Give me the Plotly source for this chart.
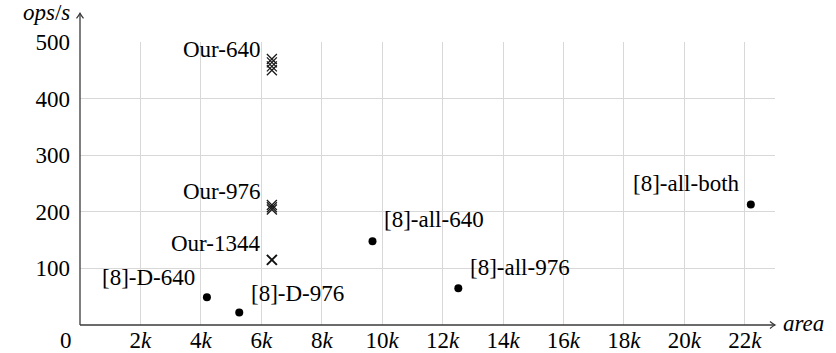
import plotly.graph_objects as go

# ---- data ----
our_x = 6.35  # area in k
our_640 = [450, 457, 464, 470]
our_976 = [204, 208, 212]
our_1344 = [115]

ref_names = ["[8]-D-640", "[8]-D-976", "[8]-all-640", "[8]-all-976", "[8]-all-both"]
ref_x = [4.2, 5.27, 9.68, 12.52, 22.2]   # area in k
ref_y = [49, 22, 148, 65, 213]           # ops/s

x_ticks = [2, 4, 6, 8, 10, 12, 14, 16, 18, 20, 22]
x_tick_text = [f"{v}<i>k</i>" for v in x_ticks]
y_ticks = [100, 200, 300, 400, 500]

FONT = "'Liberation Serif', 'Times New Roman', 'DejaVu Serif', serif"
FS = 23
AXIS_COLOR = "#3a3a3a"
GRID_COLOR = "#d8d8d8"

fig = go.Figure()

cross_thin = dict(symbol="x-thin-open", size=10, line=dict(width=1.3, color="#1a1a1a"), color="#1a1a1a")
cross_bold = dict(symbol="x-thin-open", size=10, line=dict(width=2, color="#111111"), color="#111111")
for vals, mk in ((our_640, cross_thin), (our_976, cross_thin), (our_1344, cross_bold)):
    fig.add_trace(go.Scatter(x=[our_x] * len(vals), y=vals, mode="markers",
                             marker=mk, showlegend=False, cliponaxis=False))

fig.add_trace(go.Scatter(x=ref_x, y=ref_y, mode="markers",
                         marker=dict(symbol="circle", size=8, color="black"),
                         showlegend=False, cliponaxis=False))

# labels for our points
our_labels = [("Our-640", max(our_640), -10, 9),
              ("Our-976", max(our_976), -10, 14),
              ("Our-1344", max(our_1344), -10, 16)]
for txt, yv, xs, ys in our_labels:
    fig.add_annotation(x=our_x, y=yv, text=txt, showarrow=False, xanchor="right",
                       yanchor="middle", xshift=xs, yshift=ys,
                       font=dict(family=FONT, size=FS, color="black"))

ref_style = [("right", -10, 20), ("left", 10, 19), ("left", 9, 22), ("left", 10, 21), ("right", -9, 21)]
for name, xv, yv, (anc, xs, ys) in zip(ref_names, ref_x, ref_y, ref_style):
    fig.add_annotation(x=xv, y=yv, text=name, showarrow=False, xanchor=anc,
                       yanchor="middle", xshift=xs, yshift=ys,
                       font=dict(family=FONT, size=FS, color="black"))

# origin label
fig.add_annotation(x=0, y=0, text="0", showarrow=False, xanchor="center", yanchor="middle",
                   xshift=-14, yshift=-15, font=dict(family=FONT, size=FS, color="black"))

# axis titles
fig.add_annotation(xref="paper", yref="paper", x=0, y=1.1013, text="<i>ops</i>/<i>s</i>",
                   showarrow=False, xanchor="right", yanchor="middle", xshift=-8, yshift=1,
                   font=dict(family=FONT, size=FS, color="black"))
fig.add_annotation(xref="paper", yref="paper", x=1, y=0, text="<i>area</i>",
                   showarrow=False, xanchor="left", yanchor="middle", xshift=6, yshift=2,
                   font=dict(family=FONT, size=FS, color="black"))

# axis lines with arrowheads
line = dict(color=AXIS_COLOR, width=1.3)
fig.add_shape(type="line", xref="paper", yref="paper", x0=0, x1=0, y0=0, y1=1.1013, line=line)
fig.add_shape(type="line", xref="paper", yref="paper", x0=0, x1=1, y0=0, y1=0, line=line)
fig.add_shape(type="path", xref="paper", yref="paper", xsizemode="pixel", ysizemode="pixel",
              xanchor=0, yanchor=1.1013, path="M -3.5,-5 Q -1,-2 0,0 Q 1,-2 3.5,-5", line=line)
fig.add_shape(type="path", xref="paper", yref="paper", xsizemode="pixel", ysizemode="pixel",
              xanchor=1, yanchor=0, path="M -5,3.5 Q -2,1 0,0 Q -2,-1 -5,-3.5", line=line)

fig.update_xaxes(range=[0, 23], tickvals=x_ticks, ticktext=x_tick_text, showgrid=True,
                 gridcolor=GRID_COLOR, gridwidth=1, zeroline=False, showline=False, ticks="",
                 ticklabelstandoff=-1, automargin=False,
                 tickfont=dict(family=FONT, size=FS, color="black"))
fig.update_yaxes(range=[0, 500], tickvals=y_ticks, showgrid=True, gridcolor=GRID_COLOR,
                 gridwidth=1, zeroline=False, showline=False, ticks="", ticklabelstandoff=9,
                 automargin=False, tickfont=dict(family=FONT, size=FS, color="black"))

fig.update_layout(width=836, height=353, margin=dict(l=80, r=61, t=42, b=28),
                  plot_bgcolor="white", paper_bgcolor="white",
                  font=dict(family=FONT, size=FS, color="black"))

fig.write_html("out.html", config={"displayModeBar": False},
               post_script="document.body.style.margin='0px';")
